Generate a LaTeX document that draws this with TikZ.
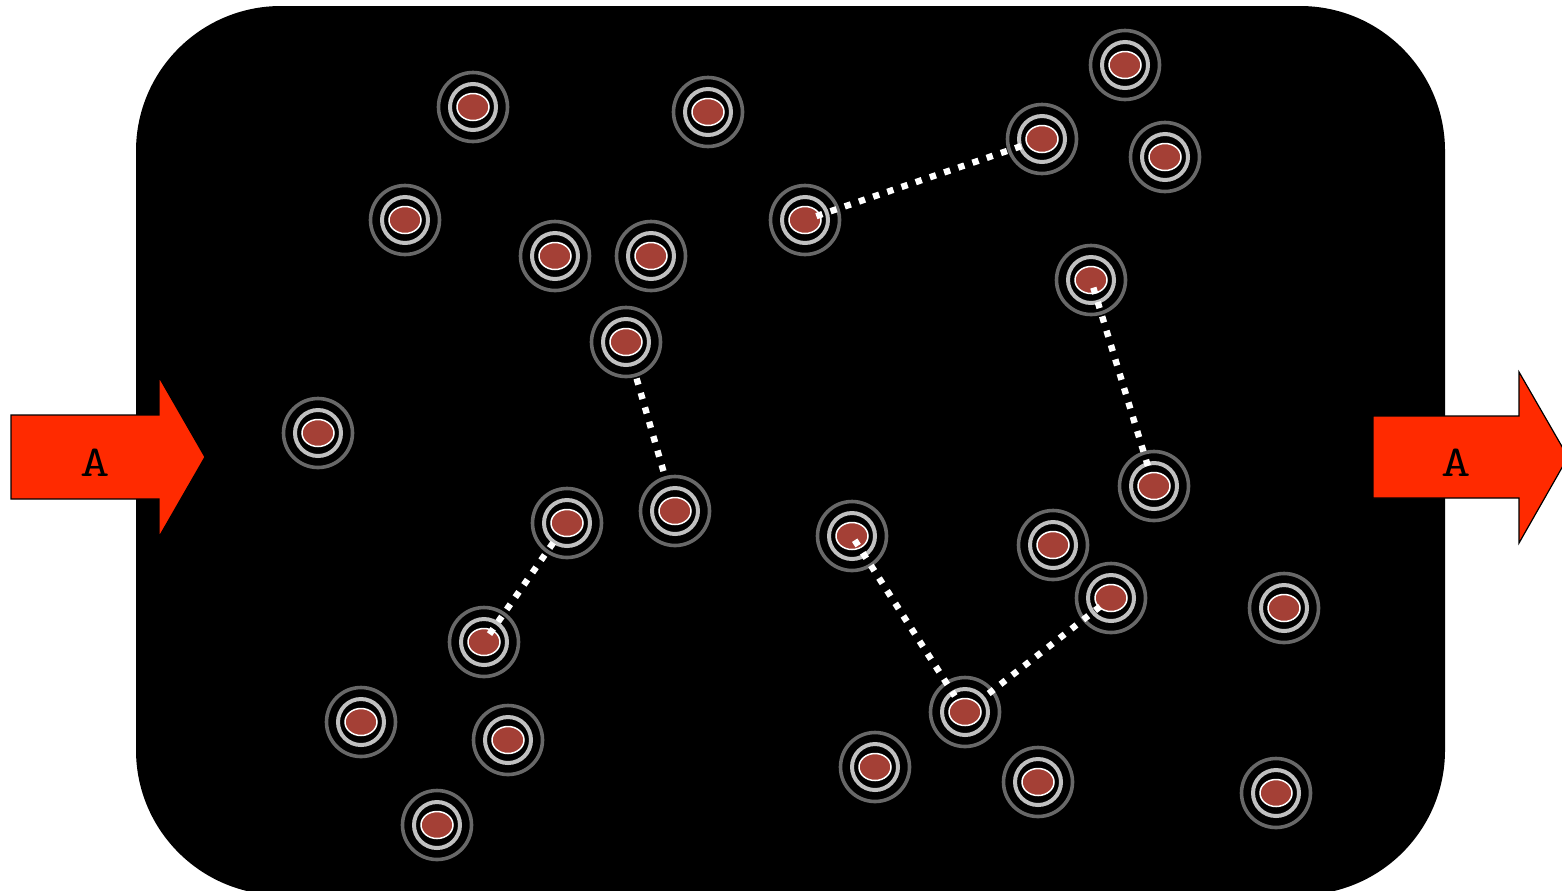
\documentclass[tikz,border=0pt]{standalone}
\usepackage{tikz}
\usepackage{xcolor}
\usetikzlibrary{calc}
\definecolor{cFlow}{RGB}{255,42,0}
\definecolor{cCore}{RGB}{164,64,54}
\definecolor{cRingOut}{RGB}{104,104,104}
\definecolor{cRingIn}{RGB}{192,192,192}
\tikzset{
	box/.style      ={fill=black, rounded corners=72.5pt},
	flow/.style     ={fill=cFlow, draw=black, line width=0.6pt, line join=miter},
	flowlbl/.style  ={font=\fontsize{22}{26}\selectfont\ttfamily, text=black, inner sep=0pt},
	% one particle: grey shell, light shell, red core
	particle/.style ={circle, draw=cRingOut, line width=1.8pt, minimum size=34.5pt, inner sep=0pt,
		path picture={
			\draw[cRingIn, line width=2pt] (path picture bounding box.center) circle[radius=11.5pt];
			\draw[white, fill=cCore, line width=0.75pt] (path picture bounding box.center) ellipse[x radius=8pt, y radius=6.75pt];
		}},
	bond/.style     ={white, line width=3.2pt, line cap=butt, dash pattern=on 3.2pt off 4.3pt},
}
\begin{document}
\begin{tikzpicture}[x=0.5pt, y=-0.5pt]
	\useasboundingbox (0,0) rectangle (1562,890);
	\clip (0,0) rectangle (1562,890);
	% chamber
	\fill[box] (136,6) rectangle (1445,895);
	% inlet and outlet
	\draw[flow] (11,415) -- (159,415) -- (159,377) -- (205,457) -- (159,537) -- (159,499) -- (11,499) -- cycle;
	\draw[flow] (1373,416) -- (1519,416) -- (1519,372) -- (1568,457) -- (1519,543) -- (1519,498) -- (1373,498) -- cycle;
	\node[flowlbl] (inA) at (95,463) {\scalebox{1.3}[1]{A}};
	\node[flowlbl] (outA) at (1456,463) {\scalebox{1.3}[1]{A}};
	% particles
	\node[particle] (p1) at (473,107) {};
	\node[particle] (p2) at (708,112) {};
	\node[particle] (p3) at (1125,65) {};
	\node[particle] (p4) at (1042,139) {};
	\node[particle] (p5) at (1165,157) {};
	\node[particle] (p6) at (405,220) {};
	\node[particle] (p7) at (555,256) {};
	\node[particle] (p8) at (651,256) {};
	\node[particle] (p9) at (805,220) {};
	\node[particle] (p10) at (1091,280) {};
	\node[particle] (p11) at (626,342) {};
	\node[particle] (p12) at (318,433) {};
	\node[particle] (p13) at (1154,486) {};
	\node[particle] (p14) at (567,523) {};
	\node[particle] (p15) at (675,511) {};
	\node[particle] (p16) at (852,536) {};
	\node[particle] (p17) at (1053,545) {};
	\node[particle] (p18) at (1111,598) {};
	\node[particle] (p19) at (1284,608) {};
	\node[particle] (p20) at (484,642) {};
	\node[particle] (p21) at (361,722) {};
	\node[particle] (p22) at (508,740) {};
	\node[particle] (p23) at (965,712) {};
	\node[particle] (p24) at (875,767) {};
	\node[particle] (p25) at (1038,782) {};
	\node[particle] (p26) at (1276,793) {};
	\node[particle] (p27) at (437,825) {};
	% bonds
	\draw[bond, shorten <=6pt, shorten >=7pt] (p9.center) -- (p4.center);
	\draw[bond, shorten <=19pt, shorten >=20.5pt] (p11.center) -- (p15.center);
	\draw[bond, shorten <=12pt, shorten >=4.5pt] (p14.center) -- (p20.center);
	\draw[bond, shorten <=2.5pt, shorten >=9.5pt] (p16.center) -- (p23.center);
	\draw[bond, shorten <=15pt, shorten >=5.5pt] (p23.center) -- (p18.center);
	\draw[bond, shorten <=4pt, shorten >=10pt] (p10.center) -- (p13.center);
\end{tikzpicture}
\end{document}
